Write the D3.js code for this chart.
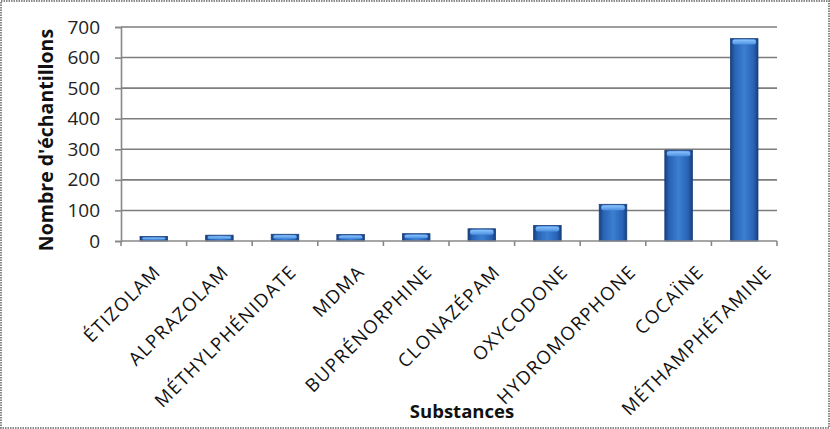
<!DOCTYPE html>
<html><head><meta charset="utf-8">
<script src="https://cdn.jsdelivr.net/npm/d3@7"></script>
<style>body{margin:0;background:#fff}svg{display:block}</style>
</head><body>
<script>
const categories = ["ÉTIZOLAM","ALPRAZOLAM","MÉTHYLPHÉNIDATE","MDMA","BUPRÉNORPHINE","CLONAZÉPAM","OXYCODONE","HYDROMORPHONE","COCAÏNE","MÉTHAMPHÉTAMINE"];
const values = [15,19,22,21,24,40,51,120,297,662];
const yTicks = [0,100,200,300,400,500,600,700];

const W=830,H=429;
const m={left:121,right:53,top:27,bottom:188};
const FONT="'Open Sans',sans-serif";
const svg=d3.select("body").append("svg").attr("width",W).attr("height",H);
svg.append("rect").attr("x",1).attr("y",1).attr("width",W-2).attr("height",H-2)
  .attr("fill","#fff").attr("stroke","#888").attr("stroke-width",2).attr("stroke-dasharray","1.5,1");

const defs=svg.append("defs");
const g1=defs.append("linearGradient").attr("id","bar").attr("x1","0").attr("x2","1").attr("y1","0").attr("y2","0");
g1.append("stop").attr("offset","0").attr("stop-color","#173f7c");
g1.append("stop").attr("offset","0.15").attr("stop-color","#2862b4");
g1.append("stop").attr("offset","0.5").attr("stop-color","#3c7fd2");
g1.append("stop").attr("offset","0.85").attr("stop-color","#2862b4");
g1.append("stop").attr("offset","1").attr("stop-color","#173f7c");
const g2=defs.append("linearGradient").attr("id","top").attr("x1","0").attr("x2","0").attr("y1","0").attr("y2","1");
g2.append("stop").attr("offset","0").attr("stop-color","#8cc4ff");
g2.append("stop").attr("offset","1").attr("stop-color","#4a90e0");

const x=d3.scaleBand().domain(categories).range([m.left,W-m.right]).paddingInner(0.58).paddingOuter(0.29);
const xb=d3.scaleBand().domain(categories).range([m.left,W-m.right]);
const xl=d3.scalePoint().domain(categories).range([162,773]);
const y=d3.scaleLinear().domain([0,700]).range([H-m.bottom,m.top]);

// gridlines
svg.append("g").selectAll("line").data(yTicks.filter(d=>d>0)).join("line")
  .attr("x1",m.left).attr("x2",W-m.right).attr("y1",d=>y(d)).attr("y2",d=>y(d))
  .attr("stroke","#7d7d7d").attr("stroke-width",1.6);

// bars
const bars=svg.append("g").selectAll("g").data(categories).join("g");
bars.append("rect").attr("x",d=>x(d)).attr("width",x.bandwidth())
  .attr("y",(d,i)=>y(values[i])).attr("height",(d,i)=>y(0)-y(values[i]))
  .attr("fill","url(#bar)").attr("stroke","#1b3f78").attr("stroke-width",0.8);
bars.append("rect").attr("x",d=>x(d)+2).attr("width",x.bandwidth()-4)
  .attr("y",(d,i)=>y(values[i])+1).attr("height",(d,i)=>Math.min(5,(y(0)-y(values[i]))/2))
  .attr("fill","url(#top)").attr("rx",2);

// y axis
const ya=svg.append("g").attr("transform",`translate(${m.left},0)`)
  .call(d3.axisLeft(y).tickValues(yTicks).tickSize(6).tickPadding(15));
ya.select(".domain").attr("stroke","#888").attr("stroke-width",1.6);
ya.selectAll(".tick line").attr("stroke","#888").attr("stroke-width",1.6);
ya.selectAll(".tick text").attr("font-family",FONT).attr("font-size",19).attr("fill","#222");

// x axis
const xa=svg.append("g").attr("transform",`translate(0,${y(0)})`);
xa.append("line").attr("x1",m.left).attr("x2",W-m.right).attr("stroke","#888").attr("stroke-width",1.6);
xa.selectAll("line.t").data(categories.concat(["_end"])).join("line").attr("class","t")
  .attr("x1",(d,i)=>m.left+i*xb.step()).attr("x2",(d,i)=>m.left+i*xb.step())
  .attr("y1",0).attr("y2",5).attr("stroke","#888").attr("stroke-width",1.6);
xa.selectAll("text").data(categories).join("text")
  .attr("transform",d=>`translate(${xl(d)},32) rotate(-45)`)
  .attr("text-anchor","end").attr("font-family",FONT).attr("font-size",18.5)
  .attr("letter-spacing",1.4).attr("fill","#111").text(d=>d);

// titles
svg.append("text").attr("transform","translate(53,140) rotate(-90)").attr("text-anchor","middle")
  .attr("font-family",FONT).attr("font-weight","bold").attr("font-size",19.5).attr("fill","#111")
  .text("Nombre d'échantillons");
svg.append("text").attr("x",462).attr("y",418).attr("text-anchor","middle")
  .attr("font-family",FONT).attr("font-weight","bold").attr("font-size",18.5).attr("fill","#111")
  .text("Substances");
</script>
</body></html>
